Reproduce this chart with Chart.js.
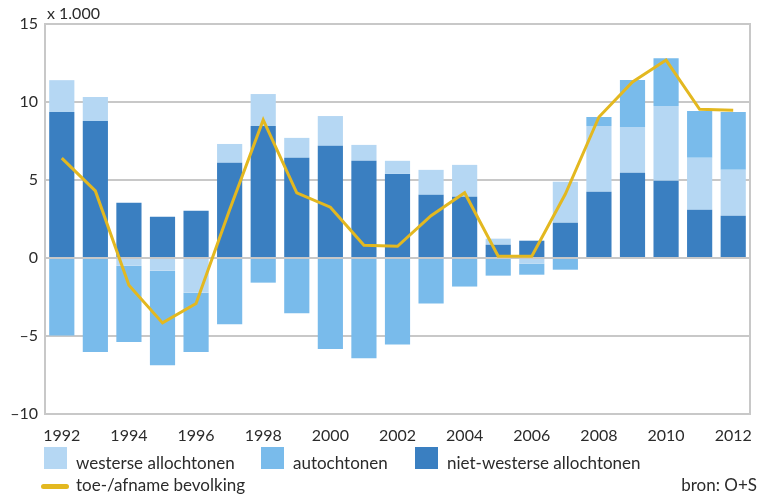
<!DOCTYPE html>
<html>
<head>
<meta charset="utf-8">
<script src="https://cdn.jsdelivr.net/npm/chart.js@4"></script>
<style>
    body { margin: 0; background: #fff; }
    #wrap { position: relative; width: 761px; height: 494px; font-family: Lato, sans-serif; color: #2b2b2b; }
    #wrap canvas { position: absolute; left: 0; top: 0; }
    .lbl { position: absolute; font-size: 16px; white-space: nowrap; line-height: 18px; }
    .leg { font-size: 17px; }
    .box { position: absolute; width: 23px; height: 22px; }
    .lijn { position: absolute; width: 28px; height: 5px; border-radius: 3px; background: #e3b820; }
</style>
</head>
<body>
<div id="wrap">
    <canvas id="chart" width="761" height="494"></canvas>
    <div class="lbl" style="left:47px; top:4px;">x 1.000</div>

    <div class="box" style="left:44px; top:447px; background:#b5d7f3;"></div>
    <div class="lbl leg" style="left:76px; top:454px;">westerse allochtonen</div>
    <div class="box" style="left:261px; top:447px; background:#79bbeb;"></div>
    <div class="lbl leg" style="left:293px; top:454px;">autochtonen</div>
    <div class="box" style="left:415px; top:447px; background:#3a7fc1;"></div>
    <div class="lbl leg" style="left:447px; top:454px;">niet-westerse allochtonen</div>

    <div class="lijn" style="left:41px; top:484px;"></div>
    <div class="lbl leg" style="left:76px; top:476px;">toe-/afname bevolking</div>
    <div class="lbl leg" style="right:4px; top:476px;">bron: O+S</div>
</div>
<script>
// jaren en waarden (x 1.000)
const jaren = ['1992', '1993', '1994', '1995', '1996', '1997', '1998', '1999', '2000', '2001', '2002',
    '2003', '2004', '2005', '2006', '2007', '2008', '2009', '2010', '2011', '2012'];

const nietWesters = [9.36, 8.78, 3.54, 2.64, 3.03, 6.10, 8.46, 6.42, 7.19, 6.23, 5.39,
    4.05, 3.92, 0.85, 1.11, 2.26, 4.24, 5.46, 4.95, 3.09, 2.71];
const westers = [2.04, 1.54, -0.49, -0.81, -2.22, 1.21, 2.05, 1.28, 1.91, 1.02, 0.84,
    1.60, 2.05, 0.39, -0.37, 2.62, 4.22, 2.94, 4.79, 3.33, 2.94];
const autochtonen = [-4.97, -6.03, -4.90, -6.06, -3.81, -4.24, -1.58, -3.54, -5.84, -6.42, -5.54,
    -2.92, -1.83, -1.13, -0.70, -0.75, 0.58, 3.01, 3.07, 3.00, 3.71];
const toeAfname = [6.40, 4.30, -1.75, -4.16, -2.92, 3.10, 8.85, 4.18, 3.26, 0.81, 0.75,
    2.71, 4.18, 0.12, 0.12, 4.10, 9.04, 11.28, 12.69, 9.53, 9.47];

const yTicks = [-10, -5, 0, 5, 10, 15];

// kader rond het grafiekgebied
const kader = {
    id: 'kader',
    afterDraw(chart) {
        const a = chart.chartArea;
        const ctx = chart.ctx;
        ctx.save();
        ctx.strokeStyle = '#c8c8c8';
        ctx.lineWidth = 2;
        ctx.strokeRect(a.left, a.top, a.right - a.left, a.bottom - a.top);
        ctx.restore();
    }
};

new Chart(document.getElementById('chart'), {
    data: {
        labels: jaren,
        datasets: [
            { type: 'bar', label: 'niet-westerse allochtonen', data: nietWesters, backgroundColor: '#3a7fc1', order: 1 },
            { type: 'bar', label: 'westerse allochtonen', data: westers, backgroundColor: '#b5d7f3', order: 1 },
            { type: 'bar', label: 'autochtonen', data: autochtonen, backgroundColor: '#79bbeb', order: 1 },
            {
                type: 'line', label: 'toe-/afname bevolking', data: toeAfname, stack: 'totaal',
                borderColor: '#e3b820', borderWidth: 3, pointRadius: 0, tension: 0, order: 0
            }
        ]
    },
    options: {
        responsive: false,
        animation: false,
        layout: { padding: { top: 24, right: 11, left: 0, bottom: 0 } },
        datasets: { bar: { categoryPercentage: 1, barPercentage: 0.75 } },
        plugins: { legend: { display: false }, tooltip: { enabled: false } },
        scales: {
            x: {
                stacked: true,
                grid: { display: false },
                border: { display: false },
                afterFit: scale => { scale.height = 80; },
                ticks: {
                    autoSkip: false,
                    maxRotation: 0,
                    padding: 4,
                    color: '#2b2b2b',
                    font: { family: 'Lato', size: 16 },
                    callback: (v, i) => (i % 2 === 0 ? jaren[i] : '')
                }
            },
            y: {
                stacked: true,
                min: -10,
                max: 15,
                afterBuildTicks: scale => { scale.ticks = yTicks.map(v => ({ value: v })); },
                afterFit: scale => { scale.width = 45; },
                grid: { color: '#c8c8c8', lineWidth: 2, drawTicks: false },
                border: { display: false },
                ticks: {
                    padding: 7,
                    color: '#2b2b2b',
                    font: { family: 'Lato', size: 16 },
                    callback: v => (v < 0 ? '\u2013' + Math.abs(v) : String(v))
                }
            }
        }
    },
    plugins: [kader]
});
</script>
</body>
</html>
